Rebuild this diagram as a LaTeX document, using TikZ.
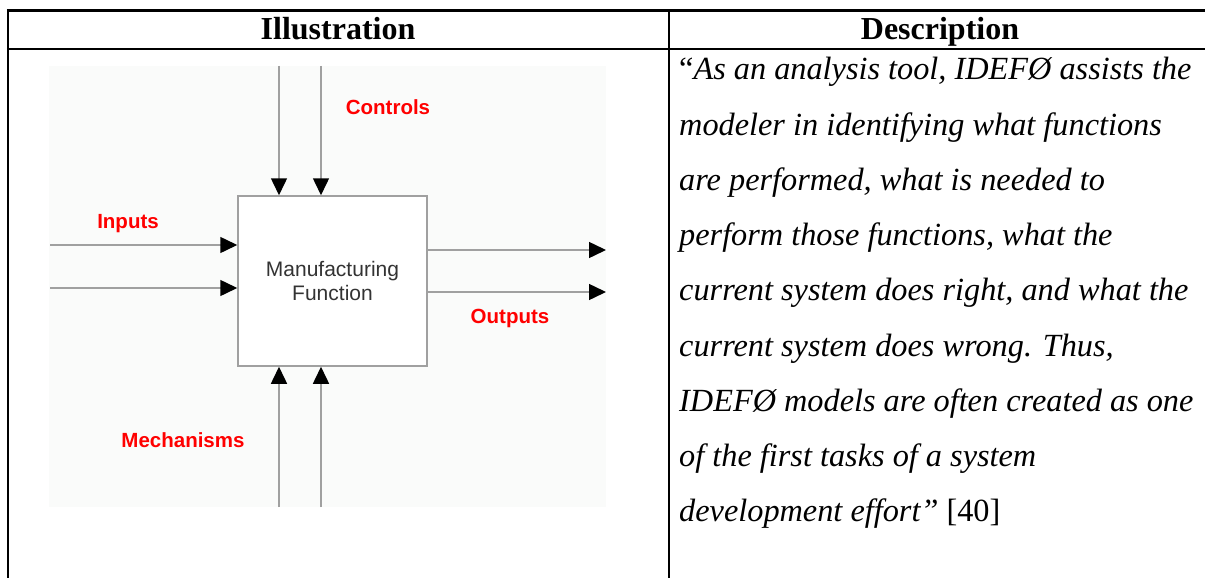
\documentclass[tikz,border=0pt]{standalone}
\usepackage{fontspec}
\setmainfont{Liberation Serif}
\newfontfamily\arialfont{Liberation Sans}
\usetikzlibrary{arrows.meta}

\definecolor{linegray}{HTML}{A0A0A0}
\definecolor{labelred}{HTML}{FF0000}
\definecolor{boxtext}{HTML}{333333}
\definecolor{panelbg}{HTML}{FAFBFA}

\tikzset{
  rule/.style={line width=2.5pt, black},
  headtext/.style={anchor=base, font=\fontsize{32}{38}\selectfont\bfseries, inner sep=0pt},
  bodytext/.style={anchor=base west, font=\fontsize{32.3}{38}\selectfont\itshape, inner sep=0pt},
  flow/.style={draw=linegray, line width=1.5pt,
    -{Triangle[length=17pt,width=16pt,color=black]}},
  redlabel/.style={font=\arialfont\bfseries\fontsize{20.5}{24}\selectfont, text=labelred, inner sep=0pt},
  funcbox/.style={draw=linegray, line width=1.5pt, fill=white, minimum width=189pt,
    minimum height=170pt, inner sep=0pt, align=center, text=boxtext,
    font=\arialfont\fontsize{21}{24}\selectfont},
}

\begin{document}
\begin{tikzpicture}[x=1pt, y=-1pt]
  \useasboundingbox (0,0) rectangle (1205,578);
  \fill[white] (0,0) rectangle (1205,578);

  % table rules
  \draw[rule] (6.75,10.5) -- (1205,10.5);
  \draw[rule] (6.75,49) -- (1205,49);
  \draw[rule] (8,9.25) -- (8,578);
  \draw[rule] (669,9.25) -- (669,578);

  % column headings
  \node[headtext] (hillus) at (338,40) {Illustration};
  \node[headtext] (hdesc) at (940,40) {Description};

  % quoted description
  \node[bodytext] (l1) at (679,80.0)  {\upshape``\itshape As an analysis tool, IDEFØ assists the};
  \node[bodytext] (l2) at (679,135.2) {modeler in identifying what functions};
  \node[bodytext] (l3) at (679,190.4) {are performed, what is needed to};
  \node[bodytext] (l4) at (679,245.6) {perform those functions, what the};
  \node[bodytext] (l5) at (679,300.8) {current system does right, and what the};
  \node[bodytext] (l6) at (679,356.0) {current system does wrong. Thus,};
  \node[bodytext] (l7) at (679,411.2) {IDEFØ models are often created as one};
  \node[bodytext] (l8) at (679,466.4) {of the first tasks of a system};
  \node[bodytext] (l9) at (679,521.6) {development effort'' \upshape[40]};

  % IDEF0 function panel
  \fill[panelbg] (49,66) rectangle (606,507);
  \node[funcbox] (fn) at (332.5,281) {Manufacturing\\Function};

  \coordinate (c1) at (279,66);
  \coordinate (c2) at (321,66);
  \coordinate (i1) at (50,245);
  \coordinate (i2) at (50,288);
  \coordinate (o1) at (606,250);
  \coordinate (o2) at (606,292);
  \coordinate (m1) at (279,507);
  \coordinate (m2) at (321,507);

  \draw[flow] (c1) -- (c1 |- fn.north);
  \draw[flow] (c2) -- (c2 |- fn.north);
  \draw[flow] (i1) -- (i1 -| fn.west);
  \draw[flow] (i2) -- (i2 -| fn.west);
  \draw[flow] (o1 -| fn.east) -- (o1);
  \draw[flow] (o2 -| fn.east) -- (o2);
  \draw[flow] (m1) -- (m1 |- fn.south);
  \draw[flow] (m2) -- (m2 |- fn.south);

  \node[redlabel] (lc) at (388,107) {Controls};
  \node[redlabel] (li) at (128,224) {Inputs};
  \node[redlabel] (lo) at (510,318) {Outputs};
  \node[redlabel] (lm) at (183,440) {Mechanisms};
\end{tikzpicture}
\end{document}
